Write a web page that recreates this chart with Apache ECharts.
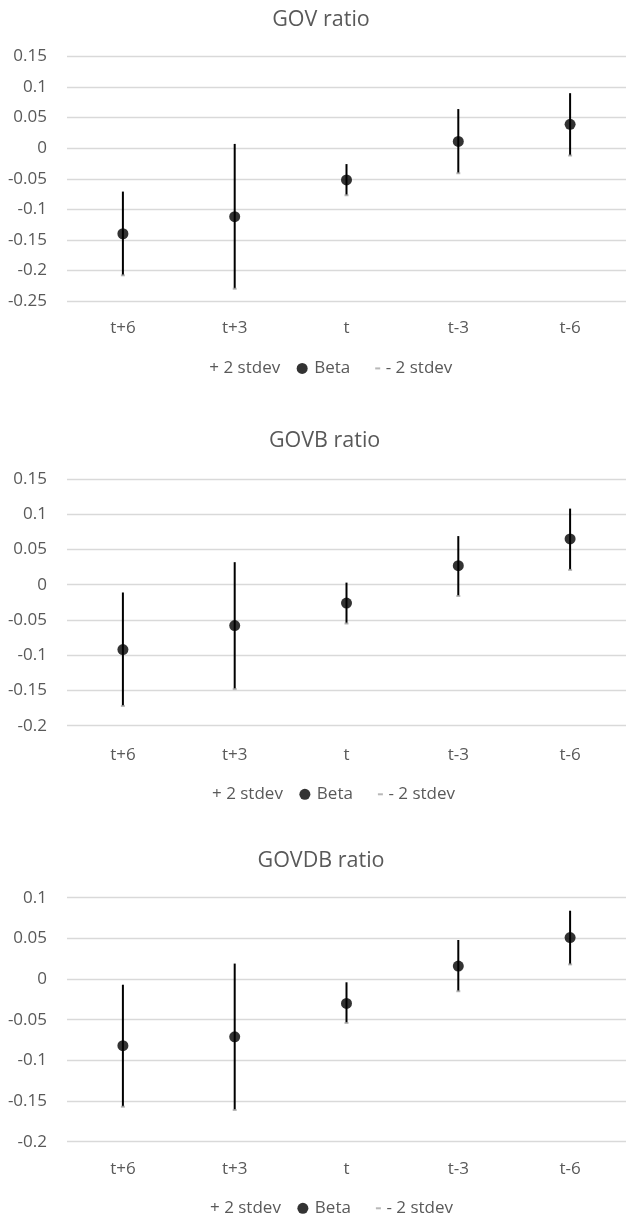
<!DOCTYPE html>
<html><head><meta charset="utf-8">
<script src="https://cdn.jsdelivr.net/npm/echarts@6/dist/echarts.min.js"></script>
<style>html,body{margin:0;padding:0;background:#fff}#c{width:626px;height:1222px}</style>
</head><body><div id="c"></div>
<script>
const categories = ['t+6', 't+3', 't', 't-3', 't-6'];
const titles = ['GOV ratio', 'GOVB ratio', 'GOVDB ratio'];
const seriesNames = ['+ 2 stdev', 'Beta', '- 2 stdev'];

const govUpper = [-0.071, 0.007, -0.026, 0.064, 0.090];
const govBeta  = [-0.140, -0.112, -0.052, 0.011, 0.039];
const govLower = [-0.208, -0.230, -0.077, -0.041, -0.012];

const govbUpper = [-0.011, 0.032, 0.003, 0.069, 0.108];
const govbBeta  = [-0.092, -0.058, -0.026, 0.027, 0.065];
const govbLower = [-0.172, -0.148, -0.055, -0.016, 0.021];

const govdbUpper = [-0.007, 0.019, -0.004, 0.048, 0.084];
const govdbBeta  = [-0.082, -0.071, -0.030, 0.016, 0.051];
const govdbLower = [-0.157, -0.161, -0.054, -0.015, 0.018];

const yMin = [-0.25, -0.2, -0.2];
const yMax = [0.15, 0.15, 0.1];
const yInterval = 0.05;

const panels = [
  {upper: govUpper, beta: govBeta, lower: govLower},
  {upper: govbUpper, beta: govbBeta, lower: govbLower},
  {upper: govdbUpper, beta: govdbBeta, lower: govdbLower}
];

// layout (pixels)
const gridLayout = [
  {left: 67, top: 56.5, width: 561, height: 244.5},
  {left: 67, top: 479, width: 566.5, height: 246.7},
  {left: 67, top: 897.7, width: 561, height: 244}
];
const titlePos = [{x: 321, y: 19.8}, {x: 324.6, y: 441.1}, {x: 321, y: 861.1}];
const legendPos = [{x: 190.3, y: 359.9}, {x: 193, y: 785.8}, {x: 191, y: 1199.8}];
const xLabelMargin = [18.5, 20.5, 18.5];

const FONT = 'Open Sans';
const TXT = '#595959';

const option = {
  animation: false,
  backgroundColor: '#ffffff',
  title: titles.map((t, k) => ({
    text: t, left: titlePos[k].x, top: titlePos[k].y, padding: 0,
    textAlign: 'center', textVerticalAlign: 'middle',
    textStyle: {fontFamily: FONT, fontSize: 21.5, fontWeight: 'normal', color: TXT}
  })),
  legend: legendPos.map((p) => ({
    left: p.x, top: p.y, padding: 0, itemWidth: 14, itemHeight: 11, itemGap: 16.5,
    selectedMode: false,
    textStyle: {fontFamily: FONT, fontSize: 17, color: TXT},
    data: [
      {name: seriesNames[0], icon: 'rect', itemStyle: {color: 'rgba(0,0,0,0)'}},
      {name: seriesNames[1], icon: 'circle'},
      {name: seriesNames[2], icon: 'path://M0,0L0,0M14,11L14,11M8.5,4.5L13.5,4.5L13.5,6.5L8.5,6.5Z'}
    ]
  })),
  grid: gridLayout.map(g => Object.assign({containLabel: false}, g)),
  xAxis: gridLayout.map((g, k) => ({
    type: 'category', gridIndex: k, data: categories, boundaryGap: true,
    axisLine: {show: false}, axisTick: {show: false}, splitLine: {show: false},
    axisLabel: {fontFamily: FONT, fontSize: 17, color: TXT, margin: xLabelMargin[k]}
  })),
  yAxis: gridLayout.map((g, k) => ({
    type: 'value', gridIndex: k, min: yMin[k], max: yMax[k], interval: yInterval,
    axisLine: {show: false}, axisTick: {show: false},
    splitLine: {show: true, lineStyle: {color: '#d9d9d9', width: 1.3}},
    axisLabel: {fontFamily: FONT, fontSize: 17, color: TXT, margin: 20}
  })),
  series: []
};

panels.forEach((p, k) => {
  option.series.push({
    type: 'custom', name: 'range', xAxisIndex: k, yAxisIndex: k, silent: true, z: 2,
    data: categories.map((c, i) => [i, p.upper[i], p.lower[i]]),
    encode: {x: 0, y: [1, 2]},
    renderItem: function (params, api) {
      const a = api.coord([api.value(0), api.value(1)]);
      const b = api.coord([api.value(0), api.value(2)]);
      return {type: 'line', shape: {x1: a[0], y1: a[1], x2: b[0], y2: b[1]},
        style: {stroke: '#000000', lineWidth: 2}};
    }
  });
  option.series.push({
    type: 'scatter', name: seriesNames[0], xAxisIndex: k, yAxisIndex: k, silent: true,
    data: p.upper, symbol: 'circle', symbolSize: 0, itemStyle: {color: '#000000'}, z: 3
  });
  option.series.push({
    type: 'scatter', name: seriesNames[1], xAxisIndex: k, yAxisIndex: k, silent: true,
    data: p.beta, symbol: 'circle', symbolSize: 11, itemStyle: {color: '#000000'}, z: 5
  });
  option.series.push({
    type: 'scatter', name: seriesNames[2], xAxisIndex: k, yAxisIndex: k, silent: true,
    data: p.lower, symbol: 'rect', symbolSize: [4, 2], itemStyle: {color: '#a6a6a6'}, z: 4
  });
});

const chart = echarts.init(document.getElementById('c'), null, {renderer: 'canvas'});
chart.setOption(option);
</script>
</body></html>
